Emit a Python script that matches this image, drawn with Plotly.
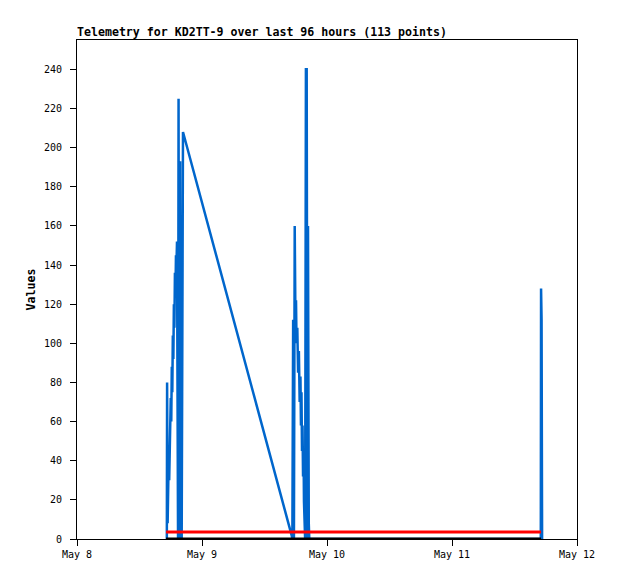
import plotly.graph_objects as go
from datetime import datetime, timedelta

base = datetime(2024, 5, 8)

# Blue series: hours after May 8 00:00, values
blue_hours = [17.25, 17.30, 17.40, 17.50, 17.60, 17.70, 17.80, 17.90, 18.00, 18.10,
              18.20, 18.30, 18.40, 18.50, 18.60, 18.70, 18.80, 18.90, 19.00, 19.10,
              19.20, 19.40, 19.50, 19.60, 19.70, 19.80, 19.90, 20.00, 20.10, 20.35,
              41.20, 41.35, 41.50, 41.65, 41.80, 41.95, 42.05, 42.15, 42.30, 42.45,
              42.60, 42.75, 42.90, 43.00, 43.10, 43.20, 43.30, 43.40, 43.50, 43.58,
              43.70, 43.80, 43.95, 44.10, 44.25, 44.35, 44.50, 44.60,
              89.05, 89.10, 89.20, 89.30]
blue_values = [0, 80, 8, 25, 41, 30, 56, 45, 72, 60,
               88, 75, 104, 92, 120, 108, 136, 124, 145, 140,
               152, 0, 225, 0, 175, 193, 0, 140, 0, 208,
               2, 0, 112, 0, 160, 108, 122, 100, 108, 85,
               96, 70, 83, 58, 75, 45, 58, 32, 45, 19,
               5, 0, 240, 240, 0, 160, 8, 0,
               0, 128, 112, 0]

# Flat series
flat_hours = [17.1, 89.1]
red_values = [3.6, 3.6]
black_values = [0, 0]

title_text = "Telemetry for KD2TT-9 over last 96 hours (113 points)"
y_title = "Values"

def to_dt(hs):
    return [base + timedelta(hours=h) for h in hs]

fig = go.Figure()
fig.add_trace(go.Scatter(x=to_dt(blue_hours), y=blue_values, mode="lines",
                         line=dict(color="#0066CC", width=2.5), showlegend=False))
fig.add_trace(go.Scatter(x=to_dt(flat_hours), y=red_values, mode="lines",
                         line=dict(color="#FF0000", width=3), showlegend=False))
fig.add_trace(go.Scatter(x=to_dt(flat_hours), y=black_values, mode="lines",
                         line=dict(color="#000000", width=3), showlegend=False))

mono = "DejaVu Sans Mono"
fig.update_layout(
    width=618, height=579,
    margin=dict(l=69, r=49, t=32, b=48),
    paper_bgcolor="white", plot_bgcolor="white",
    title=dict(text="<b>" + title_text + "</b>", x=69/618, xref="container", xanchor="left",
               y=1 - 24/579, yref="container", yanchor="middle",
               font=dict(family=mono, size=11.6, color="black")),
    xaxis=dict(range=[base, base + timedelta(days=4)], type="date",
               dtick=86400000, tick0=base, tickformat="%b %-d",
               showgrid=False, zeroline=False,
               showline=True, linecolor="black", linewidth=1, mirror=True,
               ticks="outside", ticklen=6, tickcolor="black",
               tickfont=dict(family=mono, size=10, color="black")),
    yaxis=dict(range=[0, 255], dtick=20, tick0=0,
               showgrid=False, zeroline=False,
               showline=True, linecolor="black", linewidth=1, mirror=True,
               ticks="outside", ticklen=6, tickcolor="black",
               ticklabelstandoff=6,
               tickfont=dict(family=mono, size=10, color="black"),
               title=dict(text="<b>" + y_title + "</b>", standoff=5,
                          font=dict(family=mono, size=11.6, color="black"))),
)

fig.write_html("out.html")
